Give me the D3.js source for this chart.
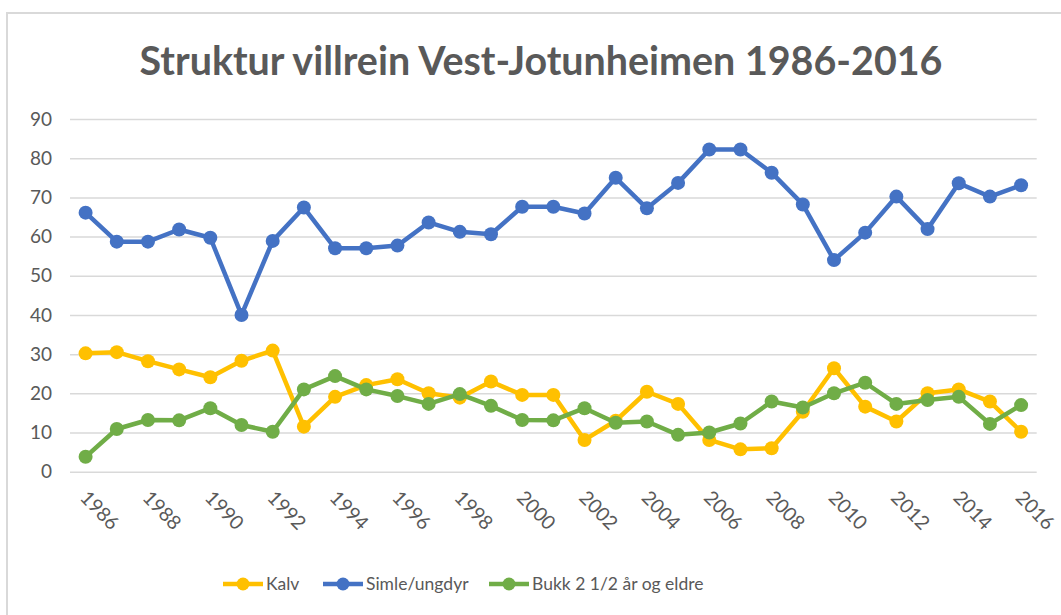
<!DOCTYPE html>
<html>
<head>
<meta charset="utf-8">
<script src="https://cdn.jsdelivr.net/npm/d3@7"></script>
<style>
  body { margin: 0; background: #fff; }
  svg { display: block; font-family: Lato, "Open Sans", sans-serif; }
</style>
</head>
<body>
<svg id="chart" width="1061" height="615"></svg>
<script>
// data
let years = [1986, 1987, 1988, 1989, 1990, 1991, 1992, 1993, 1994, 1995,
  1996, 1997, 1998, 1999, 2000, 2001, 2002, 2003, 2004, 2005,
  2006, 2007, 2008, 2009, 2010, 2011, 2012, 2013, 2014, 2015, 2016];

let kalv = [30.2, 30.5, 28.2, 26.1, 24.1, 28.3, 30.9, 11.5, 19.1, 22.1,
  23.6, 20.0, 18.9, 23.0, 19.6, 19.6, 8.1, 13.0, 20.4, 17.3,
  8.1, 5.7, 6.0, 15.3, 26.4, 16.6, 12.8, 20.0, 21.0, 17.9, 10.2];

let simle = [66.1, 58.7, 58.7, 61.8, 59.7, 40.0, 58.9, 67.4, 57.0, 57.0,
  57.7, 63.6, 61.2, 60.6, 67.6, 67.6, 65.9, 75.0, 67.2, 73.7,
  82.2, 82.2, 76.3, 68.2, 54.0, 61.0, 70.2, 61.9, 73.6, 70.2, 73.1];

let bukk = [3.8, 10.9, 13.2, 13.1, 16.2, 11.9, 10.2, 21.0, 24.4, 21.0,
  19.3, 17.3, 19.8, 16.8, 13.2, 13.1, 16.2, 12.5, 12.8, 9.4,
  10.0, 12.3, 17.9, 16.4, 20.0, 22.7, 17.3, 18.3, 19.1, 12.2, 17.0];

let seriesNames = ['Kalv', 'Simle/ungdyr', 'Bukk 2 1/2 år og eldre'];
let seriesColors = ['#FFC000', '#4472C4', '#70AD47'];
let yTicks = [0, 10, 20, 30, 40, 50, 60, 70, 80, 90];
let title = 'Struktur villrein Vest-Jotunheimen 1986-2016';

let series = [kalv, simle, bukk].map(function(vals, i){
  return { name: seriesNames[i], color: seriesColors[i],
    values: vals.map(function(v, j){ return { year: years[j], v: v }; }) };
});

let svg = d3.select('#chart');
let textColor = '#595959';

// outer chart border
svg.append('rect')
    .attr('x', 7).attr('y', 13)
    .attr('width', 1070).attr('height', 620)
    .attr('fill', '#fff')
    .attr('stroke', '#d9d9d9')
    .attr('stroke-width', 2);

let x = d3.scalePoint()
    .domain(years)
    .range([70, 1036.7])
    .padding(0.5);

let y = d3.scaleLinear()
    .domain([0, 90])
    .range([471.7, 119]);

// title, squeezed to the width of the original
let t = svg.append('text')
    .attr('x', 541)
    .attr('y', 75)
    .attr('text-anchor', 'middle')
    .attr('fill', textColor)
    .attr('font-weight', 'bold')
    .attr('font-size', 37)
    .text(title);
let tw = t.node().getComputedTextLength();
t.attr('font-size', 37 * 803 / tw);

// gridlines + y labels
let gy = svg.append('g').attr('transform', 'translate(70,0)');
gy.call(d3.axisLeft(y)
    .tickValues(yTicks)
    .tickSize(-966.7)
    .tickPadding(18)
    .tickFormat(d3.format('d')));
gy.select('.domain').remove();
gy.selectAll('.tick line').attr('stroke', '#d9d9d9').attr('stroke-width', 1.5);
gy.selectAll('.tick text')
    .attr('fill', textColor)
    .attr('font-size', 19)
    .attr('font-family', 'Lato, sans-serif');

// x labels, every second year, turned 45 degrees
let gx = svg.append('g').attr('transform', 'translate(0,471.7)');
gx.call(d3.axisBottom(x)
    .tickValues(years.filter(function(d){ return d % 2 === 0; }))
    .tickSize(0)
    .tickFormat(d3.format('d')));
gx.select('.domain').remove();
gx.selectAll('.tick text')
    .attr('fill', textColor)
    .attr('font-size', 19.5)
    .attr('font-family', 'Lato, sans-serif')
    .attr('text-anchor', 'start')
    .attr('dy', null)
    .attr('y', 0)
    .attr('transform', 'translate(-7,27) rotate(46)');

let line = d3.line()
    .x(function(d){ return x(d.year); })
    .y(function(d){ return y(d.v); });

let sg = svg.selectAll('g.series')
  .data(series)
  .enter().append('g')
    .attr('class', 'series');

sg.append('path')
    .attr('d', function(d){ return line(d.values); })
    .attr('fill', 'none')
    .attr('stroke', function(d){ return d.color; })
    .attr('stroke-width', 4.5)
    .attr('stroke-linejoin', 'round');

sg.selectAll('circle')
  .data(function(d){ return d.values.map(function(p){ return { p: p, c: d.color }; }); })
  .enter().append('circle')
    .attr('cx', function(d){ return x(d.p.year); })
    .attr('cy', function(d){ return y(d.p.v); })
    .attr('r', 7)
    .attr('fill', function(d){ return d.c; });

// legend
let legendX = [223, 323, 489];
let lg = svg.append('g').attr('transform', 'translate(0,584)');
let li = lg.selectAll('g')
  .data(series)
  .enter().append('g')
    .attr('transform', function(d, i){ return 'translate(' + legendX[i] + ',0)'; });
li.append('line')
    .attr('x1', 0).attr('x2', 40)
    .attr('stroke', function(d){ return d.color; })
    .attr('stroke-width', 4.5);
li.append('circle')
    .attr('cx', 20).attr('r', 6.5)
    .attr('fill', function(d){ return d.color; });
li.append('text')
    .attr('x', 43)
    .attr('dy', '0.35em')
    .attr('fill', textColor)
    .attr('font-size', 17.5)
    .text(function(d){ return d.name; });
</script>
</body>
</html>
